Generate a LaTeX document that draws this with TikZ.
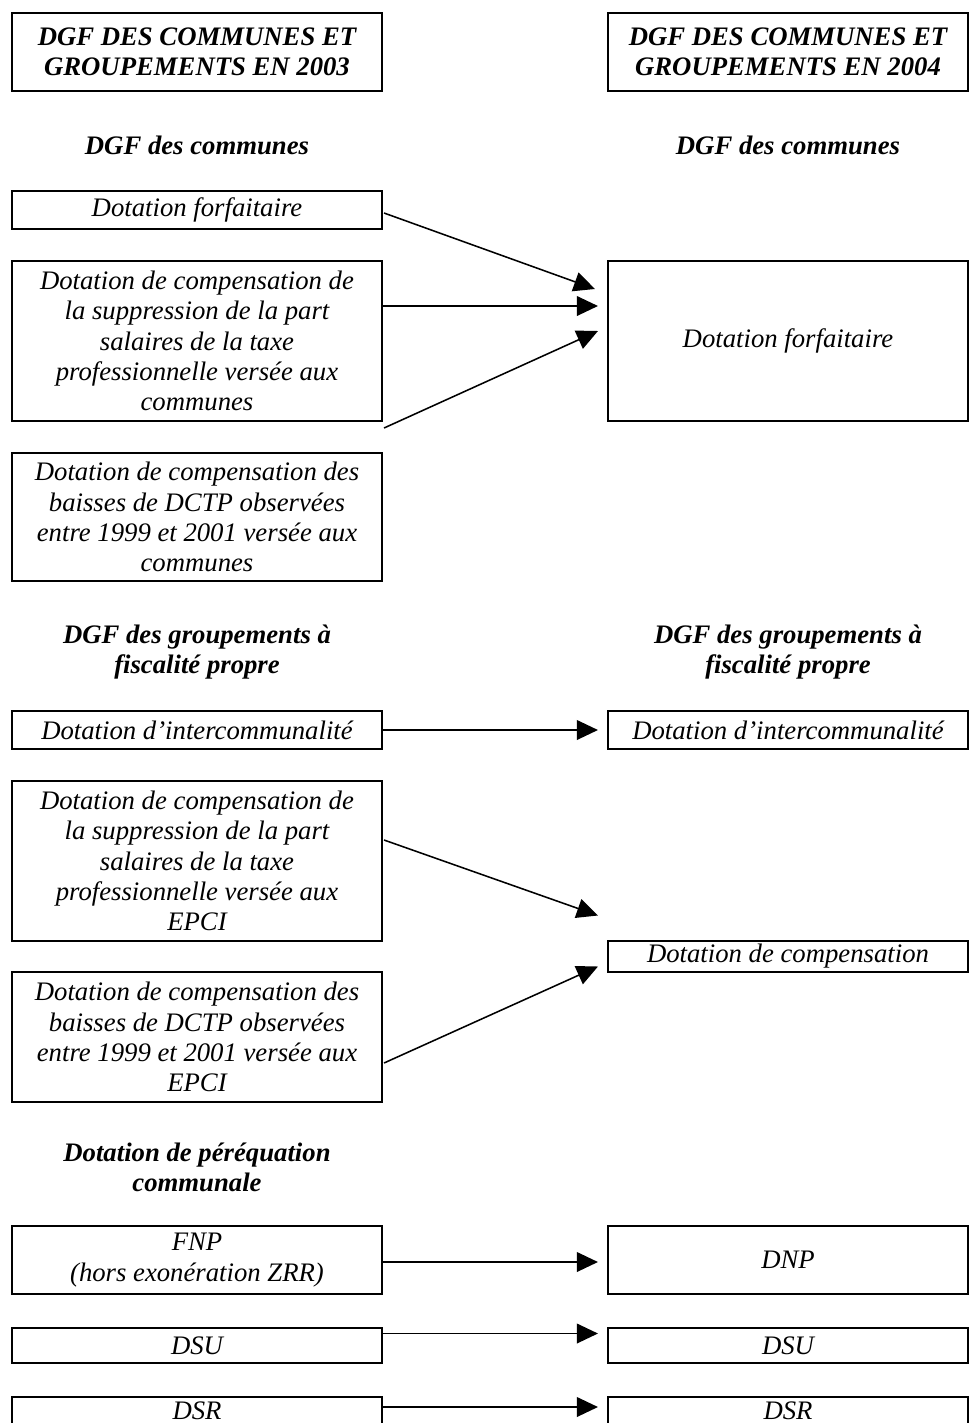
\documentclass[tikz,border=0pt]{standalone}
\usepackage{fontspec}
\setmainfont{Liberation Serif}
\usetikzlibrary{arrows.meta,calc}
\begin{document}
\begin{tikzpicture}[x=0.025cm,y=-0.025cm,
  box/.style={draw,line width=1.4pt,inner sep=0pt,align=center,font=\fontsize{19}{21.5}\selectfont\itshape},
  lbox/.style={box,minimum width=9.25cm},
  rbox/.style={box,minimum width=9cm},
  tbox/.style={draw,line width=1.4pt,inner sep=0pt,align=center,minimum height=1.95cm,font=\fontsize{19}{21.5}\selectfont\bfseries\itshape},
  head/.style={align=center,inner sep=0pt,font=\fontsize{19}{21.5}\selectfont\bfseries\itshape},
  arr/.style={line width=1.1pt,-{Triangle[length=15pt,width=14pt]}}]
\useasboundingbox (0,0) rectangle (969,1423);

% titles
\node[tbox,minimum width=9.25cm] (t1) at (197,52) {DGF DES COMMUNES ET\\GROUPEMENTS EN 2003};
\node[tbox,minimum width=9cm] (t2) at (788,52) {DGF DES COMMUNES ET\\GROUPEMENTS EN 2004};

% headings
\node[head] (h1) at (197,145) {DGF des communes};
\node[head] (h2) at (788,145) {DGF des communes};

% communes
\node[lbox,minimum height=0.95cm] (df) at (197,210) {Dotation forfaitaire};
\node[lbox,minimum height=4cm] (b2) at (197,341) {Dotation de compensation de\\la suppression de la part\\salaires de la taxe\\professionnelle versée aux\\communes};
\node[rbox,minimum height=4cm] (rf) at (788,341) {Dotation forfaitaire};
\node[lbox,minimum height=3.2cm] (dctp) at (197,517) {Dotation de compensation des\\baisses de DCTP observées\\entre 1999 et 2001 versée aux\\communes};

\draw[arr] ($(df.east)+(1,3)$) -- ($(rf.west)+(-12,-52)$);
\draw[arr] ($(b2.east)+(0,-35)$) -- ($(rf.west)+(-9,-35)$);
\draw[arr] ($(b2.south east)+(1,6)$) -- ($(rf.west)+(-9,-10)$);

% groupements
\node[head] (h3) at (197,652) {DGF des groupements à\\fiscalité propre};
\node[head] (h4) at (788,652) {DGF des groupements à\\fiscalité propre};

\node[lbox,minimum height=0.95cm] (ic) at (197,730) {Dotation d’intercommunalité};
\node[rbox,minimum height=0.95cm] (ic2) at (788,730) {Dotation d’intercommunalité};
\draw[arr] (ic.east) -- ($(ic2.west)+(-9,0)$);

\node[lbox,minimum height=4cm] (ec) at (197,861) {Dotation de compensation de\\la suppression de la part\\salaires de la taxe\\professionnelle versée aux\\EPCI};
\node[rbox,minimum height=0.78cm] (dc) at (788,956.5) {Dotation de compensation};
\node[lbox,minimum height=3.25cm] (dce) at (197,1037) {Dotation de compensation des\\baisses de DCTP observées\\entre 1999 et 2001 versée aux\\EPCI};
\draw[arr] ($(ec.east)+(1,-21)$) -- ($(dc.west)+(-9,-41)$);
\draw[arr] ($(dce.east)+(1,26)$) -- ($(dc.west)+(-9,10)$);

% péréquation
\node[head] (h5) at (197,1167) {Dotation de péréquation\\communale};

\node[lbox,minimum height=1.7cm] (fnp) at (197,1260) {FNP\\(hors exonération ZRR)};
\node[rbox,minimum height=1.7cm] (dnp) at (788,1260) {DNP};
\draw[arr] ($(fnp.east)+(0,2)$) -- ($(dnp.west)+(-9,2)$);

\node[lbox,minimum height=0.875cm] (dsu) at (197,1345.5) {DSU};
\node[rbox,minimum height=0.875cm] (dsu2) at (788,1345.5) {DSU};
\draw[arr] ($(dsu.east)+(0,-12)$) -- ($(dsu2.west)+(-9,-12)$);

\node[lbox,minimum height=0.7cm] (dsr) at (197,1411) {DSR};
\node[rbox,minimum height=0.7cm] (dsr2) at (788,1411) {DSR};
\draw[arr] ($(dsr.east)+(0,-4)$) -- ($(dsr2.west)+(-9,-4)$);
\end{tikzpicture}
\end{document}
